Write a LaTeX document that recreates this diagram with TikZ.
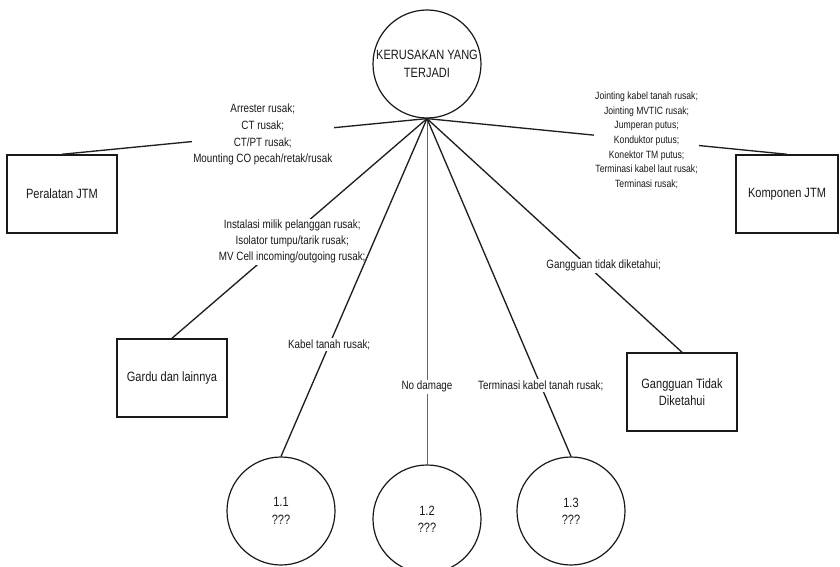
\documentclass[tikz,border=0pt]{standalone}
\usepackage{fontspec}
\setmainfont{Liberation Sans}[FakeStretch=0.82]
\begin{document}
\begin{tikzpicture}[x=0.75pt,y=-0.75pt,
  base/.style={font=\fontsize{10.1}{13}\selectfont, align=center, text=black!90},
  box/.style={base, draw=black!90, line width=1.1pt, minimum width=82.5pt, minimum height=58.5pt, inner sep=0pt},
  bubble/.style={base, draw=black!90, circle, line width=0.9pt, minimum size=81pt, inner sep=0pt},
  lbl/.style={fill=white, align=center, inner sep=1pt, text=black!90, font=\fontsize{9}{12}\selectfont},
  smalllbl/.style={lbl, font=\fontsize{7.9}{10.9}\selectfont},
  midlbl/.style={lbl, font=\fontsize{9}{12.5}\selectfont},
  conn/.style={draw=black!88, line width=1pt},
  thinconn/.style={draw=black!60, line width=0.6pt}
]
\path[use as bounding box] (0,0) rectangle (840,567);
\clip (0,0) rectangle (840,567);

% nodes
\node[bubble] (top) at (427,64) {KERUSAKAN YANG\\TERJADI};
\node[box] (peralatan) at (62,194) {Peralatan JTM};
\node[box, minimum width=76.5pt] (komponen) at (787,194) {Komponen JTM};
\node[box] (gardu) at (172,378) {Gardu dan lainnya};
\node[box] (gangguan) at (682,392) {Gangguan Tidak\\Diketahui};
\node[bubble] (c1) at (281,511) {1.1\\???};
\node[bubble] (c2) at (427,519) {1.2\\???};
\node[bubble] (c3) at (571,511) {1.3\\???};

% connectors with their labels
\draw[conn] (top.south) -- (peralatan.north)
  node[midlbl, pos=0.45] {Arrester rusak;\\CT rusak;\\CT/PT rusak;\\Mounting CO pecah/retak/rusak};
\draw[conn] (top.south) -- (komponen.north)
  node[smalllbl, pos=0.61] {Jointing kabel tanah rusak;\\Jointing MVTIC rusak;\\Jumperan putus;\\Konduktor putus;\\Konektor TM putus;\\Terminasi kabel laut rusak;\\Terminasi rusak;};
\draw[conn] (top.south) -- (gardu.north)
  node[lbl, pos=0.56, xshift=6pt] {Instalasi milik pelanggan rusak;\\Isolator tumpu/tarik rusak;\\MV Cell incoming/outgoing rusak;};
\draw[conn] (top.south) -- (gangguan.north)
  node[lbl, pos=0.63, xshift=12pt] {Gangguan tidak diketahui;};
\draw[conn] (top.south) -- (c1.north)
  node[lbl, pos=0.67] {Kabel tanah rusak;};
\draw[thinconn] (top.south) -- (c2.north)
  node[lbl, pos=0.775] {No damage};
\draw[conn] (top.south) -- (c3.north)
  node[lbl, pos=0.79] {Terminasi kabel tanah rusak;};
\end{tikzpicture}
\end{document}
